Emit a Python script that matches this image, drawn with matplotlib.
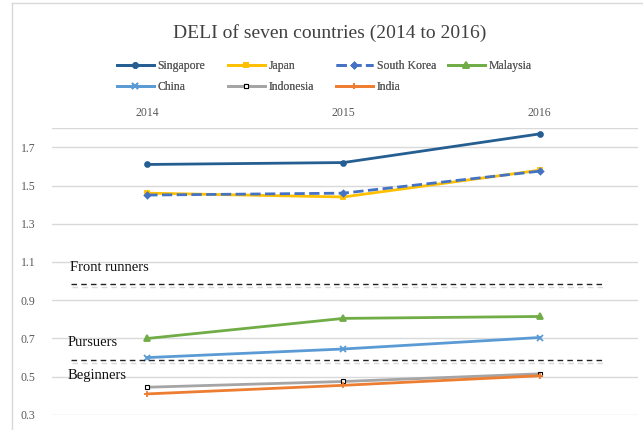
import numpy as np
import matplotlib.pyplot as plt
from matplotlib.lines import Line2D
import matplotlib.patheffects as pe

plt.rcParams['font.family'] = ['Liberation Serif', 'DejaVu Serif']

years = ['2014', '2015', '2016']
singapore = [1.61, 1.62, 1.77]
japan = [1.46, 1.44, 1.58]
south_korea = [1.45, 1.46, 1.575]
malaysia = [0.70, 0.805, 0.815]
china = [0.60, 0.645, 0.705]
indonesia = [0.445, 0.475, 0.515]
india = [0.41, 0.455, 0.505]

front_runners = 0.985
pursuers = 0.585

x = np.arange(len(years))

fig = plt.figure(figsize=(6.43, 4.30), dpi=100)
ax = fig.add_axes([0.081, 0.035, 0.911, 0.667])

series = [
    ('Singapore', singapore, '#255E91', '-', 'o', 3.5),
    ('Japan', japan, '#FFC000', '-', 's', 3.5),
    ('South Korea', south_korea, '#4472C4', '--', 'D', 3),
    ('Malaysia', malaysia, '#70AD47', '-', '^', 4),
    ('China', china, '#5B9BD5', '-', 'x', 4),
    ('Indonesia', indonesia, '#A5A5A5', '-', 's', 3.5),
    ('India', india, '#ED7D31', '-', '+', 5),
]
lines = {}
for name, vals, col, ls, mk, ms in series:
    if name == 'Indonesia':
        ln, = ax.plot(x, vals, color=col, ls=ls, lw=2, marker=mk, ms=ms,
                      mfc='white', mec='black', mew=0.8, label=name)
    else:
        ln, = ax.plot(x, vals, color=col, ls=ls, lw=2, marker=mk, ms=ms,
                      mew=1.3, label=name)
    lines[name] = ln

# threshold lines with a soft shadow
shadow = [pe.SimpleLineShadow(offset=(1, -2), shadow_color='gray', alpha=0.3), pe.Normal()]
for yv in [front_runners, pursuers]:
    ax.plot([-0.39, 2.33], [yv, yv], color='#222222', ls=(0, (4, 3)), lw=1,
            path_effects=shadow)

ax.text(-0.395, 1.07, 'Front runners', fontsize=10.5, color='#111111', va='center')
ax.text(-0.405, 0.68, 'Pursuers', fontsize=10.5, color='#111111', va='center')
ax.text(-0.405, 0.505, 'Beginners', fontsize=10.5, color='#111111', va='center')

ax.set_xlim(-0.485, 2.5)
ax.set_ylim(0.3, 1.8)
ax.set_yticks([0.3, 0.5, 0.7, 0.9, 1.1, 1.3, 1.5, 1.7])
ax.set_yticklabels(['0.3', '0.5', '0.7', '0.9', '1.1', '1.3', '1.5', '1.7'])
ax.yaxis.grid(True, color='#D9D9D9', lw=1)
ax.axhline(1.8, color='#D9D9D9', lw=1)
ax.set_axisbelow(True)
ax.xaxis.tick_top()
ax.set_xticks(x)
ax.set_xticklabels(years)
ax.tick_params(axis='both', length=0, labelsize=8.5, colors='#595959')
ax.tick_params(axis='x', pad=6.5)
ax.tick_params(axis='y', pad=12)
for s in ax.spines.values():
    s.set_visible(False)

# legend: four columns placed on a fixed grid like the original
columns = [['Singapore', 'China'], ['Japan', 'Indonesia'],
           ['South Korea', 'India'], ['Malaysia']]
col_x = [117, 228, 336, 448]
for names, px in zip(columns, col_x):
    leg = fig.legend([lines[n] for n in names], names, loc='upper left',
                     bbox_to_anchor=(px / 643, 1 - 60 / 430), frameon=False,
                     fontsize=8.5, handlelength=3.1, handletextpad=0.35,
                     labelspacing=0.8, borderaxespad=0, borderpad=0)
    for t in leg.get_texts():
        t.set_color('#595959')
    fig.add_artist(leg)

fig.text(0.513, 0.923, 'DELI of seven countries (2014 to 2016)', ha='center',
         va='center', fontsize=14, color='#404040')

# chart frame
fig.add_artist(Line2D([0.019, 0.019], [0, 0.993], color='#D9D9D9', lw=1))
fig.add_artist(Line2D([0.019, 1], [0.993, 0.993], color='#D9D9D9', lw=1))

fig.savefig('out.png', dpi=100)
